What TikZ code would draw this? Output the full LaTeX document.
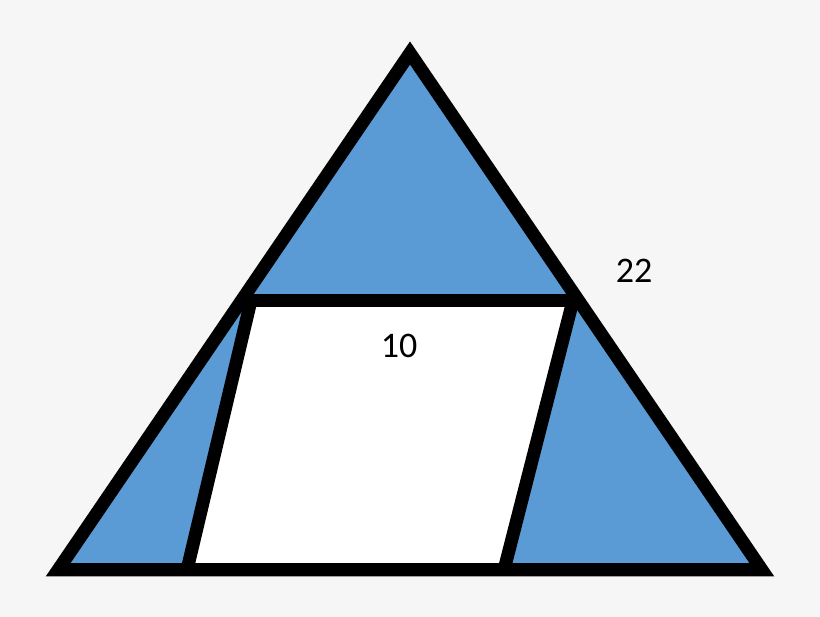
\documentclass[tikz,border=0pt]{standalone}
\usepackage{fontspec}
\setmainfont{Carlito}
\usetikzlibrary{calc}
\definecolor{bluefill}{HTML}{5B9BD5}
\definecolor{paper}{HTML}{F6F6F6}
\tikzset{
  edge/.style={line width=13pt, line join=miter, draw=black},
  label/.style={font=\fontsize{36}{42}\selectfont, inner sep=0pt}
}
\begin{document}
\begin{tikzpicture}[x=1pt,y=-1pt]
    \def \cut {0.5213} % height of the top bar along the sides
    \fill[paper] (0,0) rectangle (820,617);
    \useasboundingbox (0,0) rectangle (820,617);
    \coordinate (apex) at (410,53);
    \coordinate (left) at (58,570);
    \coordinate (right) at (762,570);
    \coordinate (barL) at ($(left)!\cut!(apex)$);
    \coordinate (barR) at ($(right)!\cut!(apex)$);
    % parallelogram corners
    \coordinate (pa) at (187,570);
    \coordinate (pb) at (251,300.5);
    \coordinate (pc) at (573,300.5);
    \coordinate (pd) at (504,570);
    \filldraw[edge, fill=bluefill] (left) -- (apex) -- (right) -- cycle;
    \fill[white] (pa) -- (pb) -- (pc) -- (pd) -- cycle;
    \draw[edge] (barL) -- (barR);
    \draw[edge] (pa) -- (pb);
    \draw[edge] (pd) -- (pc);
    \draw[edge] (left) -- (right);
    \node[label] (side) at (634,270.5) {22};
    \node[label] (top) at (399,346) {10};
\end{tikzpicture}
\end{document}
